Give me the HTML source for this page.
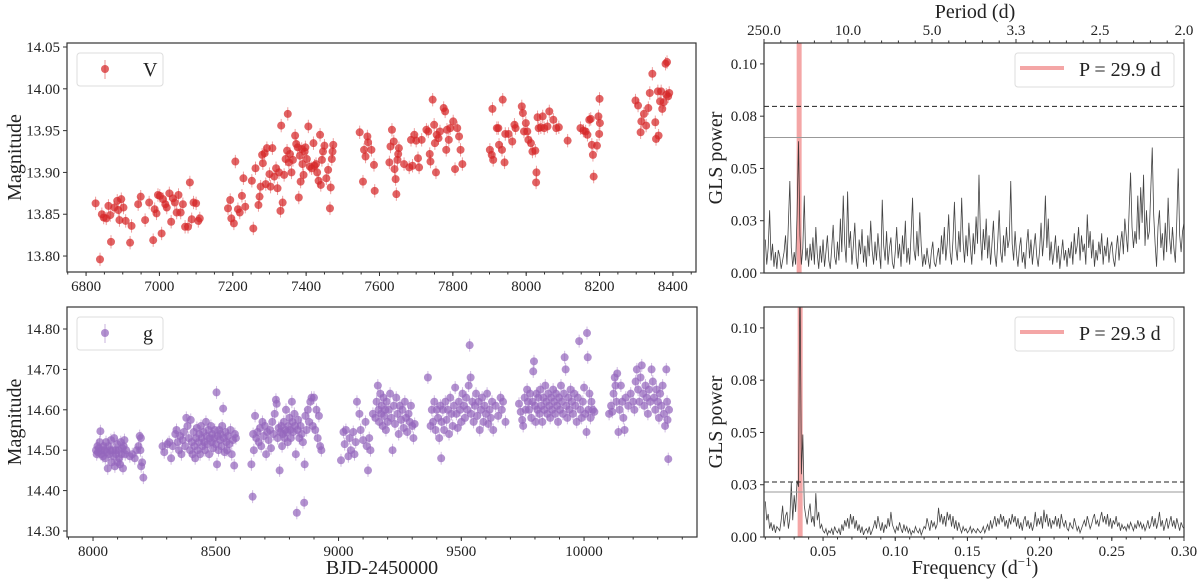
<!DOCTYPE html>
<html><head><meta charset="utf-8">
<style>
html,body{margin:0;padding:0;background:#fff;}
svg{display:block;font-family:"Liberation Serif","DejaVu Serif",serif;}
</style></head>
<body>
<svg id="fig" width="1200" height="583" viewBox="0 0 1200 583" xmlns="http://www.w3.org/2000/svg"></svg>
<script>
// ---------- V-band light curve ----------
const vT=[6826,6838,6843,6848,6855,6861,6866,6868,6877,6885,6888,6891,6896,6902,6908,6920,6924,6942,6949,6961,6972,6983,6987,6992,6996,7001,7006,7010,7016,7020,7027,7032,7037,7042,7047,7052,7058,7064,7070,7078,7083,7088,7093,7100,7106,7110,
7187,7193,7196,7203,7207,7214,7219,7225,7229,7234,7252,7256,7262,7270,7273,7276,7280,7282,7287,7290,7293,7300,7303,7308,7313,7318,7322,7326,7330,7332,7336,7340,7344,7348,7350,7353,7356,7360,7364,7370,7373,7377,7380,7383,7385,7388,7390,7393,7396,7398,7402,7406,7410,7415,7420,7423,7427,7430,7434,7438,7440,7443,7446,7450,7455,7460,7465,7467,7470,7472,7474,
7546,7555,7558,7562,7567,7569,7578,7585,7587,7627,7630,7634,7639,7641,7644,7646,7649,7651,7653,7667,7681,7686,7690,7695,7700,7705,7708,7715,7728,7733,7737,7739,7745,7749,7751,7754,7756,7761,7765,7775,7779,7782,7784,7789,7793,7801,7806,7812,7817,7821,7826,
7901,7906,7908,7910,7920,7924,7926,7934,7936,7941,7943,7952,7962,7968,7971,7988,7991,7994,7999,8003,8006,8013,8017,8025,8027,8028,8031,8034,8040,8045,8049,8058,8063,8074,8082,8089,8113,8148,8156,8162,8167,8172,8176,8179,8182,8184,8193,8197,8199,8200,8201,
8298,8305,8312,8314,8321,8327,8333,8337,8344,8352,8354,8359,8361,8365,8368,8371,8375,8380,8382,8384,8387,8390];
const vM=[13.863,13.796,13.850,13.846,13.845,13.860,13.849,13.817,13.858,13.866,13.855,13.843,13.868,13.858,13.842,13.816,13.836,13.862,13.871,13.843,13.864,13.819,13.856,13.851,13.873,13.872,13.827,13.868,13.862,13.858,13.875,13.841,13.869,13.864,13.852,13.873,13.852,13.862,13.835,13.835,13.888,13.844,13.864,13.863,13.842,13.845,
13.857,13.867,13.845,13.839,13.913,13.856,13.852,13.872,13.893,13.859,13.890,13.833,13.905,13.861,13.871,13.883,13.921,13.911,13.923,13.886,13.929,13.898,13.883,13.929,13.895,13.905,13.881,13.900,13.854,13.956,13.864,13.897,13.916,13.926,13.970,13.912,13.922,13.900,13.915,13.944,13.934,13.930,13.870,13.920,13.889,13.928,13.910,13.897,13.925,13.930,13.916,13.955,13.907,13.905,13.935,13.908,13.910,13.900,13.890,13.945,13.885,13.915,13.925,13.932,13.893,13.903,13.857,13.882,13.916,13.925,13.933,
13.948,13.889,13.927,13.919,13.943,13.936,13.927,13.909,13.878,13.912,13.931,13.951,13.937,13.904,13.892,13.874,13.915,13.922,13.929,13.910,13.906,13.939,13.908,13.945,13.938,13.917,13.906,13.939,13.951,13.949,13.922,13.913,13.987,13.957,13.935,13.900,13.945,13.941,13.949,13.977,13.973,13.927,13.951,13.939,13.953,13.961,13.904,13.953,13.943,13.927,13.910,
13.927,13.921,13.976,13.915,13.953,13.953,13.933,13.927,13.987,13.912,13.946,13.946,13.937,13.957,13.953,13.979,13.971,13.949,13.959,13.949,13.939,13.935,13.925,13.926,13.888,13.900,13.966,13.953,13.954,13.967,13.953,13.955,13.973,13.963,13.953,13.954,13.938,13.953,13.950,13.949,13.945,13.963,13.964,13.933,13.921,13.895,13.932,13.967,13.946,13.988,13.959,
13.986,13.980,13.948,13.961,13.970,13.956,13.977,13.995,14.018,13.960,13.940,13.997,13.944,13.985,13.997,13.976,13.984,14.030,13.993,14.032,13.991,13.995];
// ---------- g-band light curve ----------
const gT=[8012,8015,8018,8020,8024,8027,8030,8033,8036,8040,8043,8047,8050,8053,8056,8060,8063,8066,8070,8073,8076,8080,8083,8086,8089,8092,8095,8098,8101,8104,8107,8110,8113,8116,8119,8122,8125,8128,8131,8135,8150,8160,8170,8178,8185,8190,8193,8196,8200,8205,8195,
8283,8290,8303,8310,8318,8325,8335,8340,8345,8350,8355,8360,8365,8370,8375,8380,8385,8390,8395,8398,8402,8405,8410,8413,8416,8420,8423,8426,8430,8433,8436,8440,8443,8446,8450,8453,8456,8460,8463,8466,8470,8473,8476,8480,8483,8486,8490,8493,8496,8500,8503,8505,8508,8511,8514,8517,8520,8523,8526,8530,8533,8536,8540,8543,8546,8550,8555,8560,8565,8570,8575,8578,8582,
8645,8650,8652,8655,8660,8665,8670,8675,8680,8685,8690,8695,8700,8705,8710,8715,8720,8725,8730,8735,8740,8745,8748,8752,8756,8760,8763,8767,8770,8773,8777,8780,8783,8786,8790,8793,8796,8800,8803,8806,8810,8813,8816,8820,8823,8826,8830,8833,8836,8840,8845,8850,8855,8860,8862,8865,8870,8875,8880,8885,8890,8895,8900,8905,8910,8915,8920,8925,8930,
9010,9020,9025,9030,9040,9045,9050,9060,9065,9070,9075,9085,9090,9100,9110,9115,9120,9125,9130,9140,9150,9155,9160,9163,9166,9170,9173,9176,9180,9183,9186,9190,9193,9196,9200,9205,9210,9215,9220,9225,9230,9235,9240,9245,9250,9255,9260,9265,9270,9275,9280,9285,9290,9295,9300,9305,9310,
9364,9375,9380,9385,9390,9395,9400,9405,9410,9415,9418,9420,9425,9430,9435,9440,9445,9450,9455,9460,9465,9470,9475,9480,9485,9490,9495,9500,9505,9510,9515,9520,9525,9530,9534,9538,9540,9545,9550,9555,9560,9565,9570,9575,9580,9585,9590,9595,9600,9605,9610,9615,9620,9625,9630,9640,9650,9660,9665,9670,9680,
9735,9742,9748,9752,9758,9762,9768,9772,9776,9780,9785,9790,9793,9796,9800,9803,9806,9810,9814,9818,9822,9826,9830,9834,9838,9842,9846,9850,9854,9858,9862,9866,9870,9874,9878,9882,9886,9890,9894,9898,9902,9906,9910,9914,9918,9921,9925,9928,9932,9936,9940,9945,9950,9955,9960,9965,9970,9975,9980,9985,9990,9995,10000,10005,10010,10012,10015,10018,10022,10026,10030,10036,10042,
10102,10110,10115,10120,10125,10128,10132,10135,10140,10145,10150,10155,10160,10165,10170,10180,10190,10200,10205,10210,10215,10220,10225,10230,10235,10240,10245,10250,10255,10260,10265,10270,10275,10280,10285,10290,10295,10300,10305,10310,10315,10320,10325,10330,10335,10338,10340,10343,10346];
const gM=[14.50,14.49,14.51,14.495,14.505,14.52,14.547,14.49,14.50,14.485,14.51,14.50,14.48,14.52,14.495,14.455,14.51,14.49,14.50,14.525,14.47,14.50,14.485,14.53,14.46,14.50,14.49,14.515,14.47,14.50,14.48,14.465,14.52,14.49,14.505,14.455,14.51,14.525,14.49,14.50,14.485,14.49,14.48,14.50,14.51,14.535,14.50,14.46,14.47,14.432,14.53,
14.51,14.495,14.515,14.52,14.48,14.51,14.54,14.55,14.52,14.50,14.535,14.49,14.525,14.545,14.51,14.58,14.56,14.53,14.50,14.575,14.52,14.49,14.545,14.51,14.48,14.53,14.555,14.50,14.52,14.54,14.49,14.56,14.53,14.51,14.545,14.52,14.50,14.57,14.535,14.515,14.55,14.49,14.53,14.56,14.52,14.54,14.505,14.53,14.55,14.515,14.643,14.465,14.535,14.50,14.55,14.525,14.54,14.51,14.56,14.603,14.53,14.495,14.545,14.52,14.50,14.535,14.515,14.55,14.49,14.525,14.462,14.54,14.53,
14.465,14.385,14.54,14.50,14.585,14.53,14.545,14.52,14.555,14.51,14.57,14.535,14.56,14.49,14.545,14.525,14.55,14.505,14.57,14.54,14.59,14.625,14.615,14.53,14.555,14.45,14.545,14.56,14.51,14.54,14.57,14.53,14.55,14.60,14.545,14.52,14.56,14.58,14.55,14.53,14.62,14.57,14.545,14.59,14.56,14.49,14.345,14.55,14.575,14.53,14.56,14.54,14.52,14.37,14.465,14.585,14.55,14.60,14.57,14.62,14.63,14.56,14.63,14.55,14.60,14.53,14.585,14.51,14.50,
14.475,14.545,14.515,14.55,14.485,14.53,14.50,14.545,14.49,14.52,14.62,14.59,14.55,14.525,14.57,14.51,14.45,14.53,14.50,14.59,14.58,14.62,14.66,14.60,14.57,14.64,14.59,14.61,14.56,14.63,14.585,14.60,14.55,14.62,14.57,14.60,14.64,14.58,14.50,14.61,14.565,14.63,14.59,14.54,14.61,14.575,14.60,14.555,14.62,14.58,14.545,14.59,14.57,14.61,14.56,14.53,14.565,
14.68,14.56,14.60,14.57,14.62,14.55,14.60,14.58,14.53,14.61,14.48,14.57,14.60,14.55,14.62,14.575,14.60,14.54,14.63,14.59,14.56,14.61,14.655,14.59,14.555,14.62,14.60,14.57,14.64,14.61,14.58,14.63,14.60,14.66,14.76,14.68,14.59,14.62,14.57,14.61,14.64,14.585,14.62,14.55,14.60,14.63,14.57,14.61,14.59,14.64,14.565,14.60,14.58,14.62,14.55,14.61,14.585,14.63,14.60,14.62,14.57,
14.615,14.595,14.575,14.56,14.63,14.60,14.65,14.62,14.60,14.64,14.58,14.62,14.695,14.72,14.61,14.57,14.64,14.60,14.63,14.59,14.65,14.61,14.57,14.63,14.60,14.66,14.62,14.59,14.64,14.61,14.58,14.63,14.60,14.65,14.62,14.59,14.64,14.61,14.57,14.63,14.60,14.66,14.62,14.59,14.64,14.73,14.70,14.61,14.58,14.63,14.60,14.65,14.62,14.59,14.64,14.61,14.57,14.63,14.77,14.60,14.58,14.62,14.655,14.59,14.545,14.79,14.73,14.60,14.64,14.58,14.62,14.60,14.595,
14.59,14.61,14.595,14.64,14.68,14.66,14.62,14.69,14.545,14.60,14.66,14.62,14.58,14.55,14.63,14.61,14.64,14.62,14.60,14.67,14.70,14.65,14.62,14.68,14.71,14.64,14.61,14.66,14.63,14.59,14.65,14.62,14.70,14.67,14.63,14.60,14.65,14.62,14.58,14.64,14.61,14.66,14.59,14.56,14.70,14.62,14.575,14.478,14.60];
// ---------- GLS periodograms (freq grid 0.010..0.300 step 0.001) ----------
const pgFreqStart=0.010, pgFreqStep=0.001;
const pgV=[0.016,0.004,0.012,0.030,0.006,0.014,0.003,0.010,0.002,0.011,
0.008,0.002,0.006,0.010,0.018,0.004,0.024,0.044,0.012,0.003,
0.010,0.004,0.028,0.063,0.018,0.004,0.012,0.037,0.006,0.012,
0.003,0.014,0.006,0.017,0.004,0.022,0.009,0.002,0.013,0.005,
0.016,0.003,0.010,0.018,0.006,0.002,0.012,0.023,0.008,0.004,
0.015,0.006,0.026,0.010,0.037,0.014,0.005,0.039,0.012,0.020,
0.004,0.013,0.024,0.007,0.002,0.016,0.009,0.021,0.005,0.013,
0.003,0.018,0.008,0.025,0.011,0.004,0.015,0.006,0.019,0.010,
0.002,0.035,0.013,0.006,0.020,0.004,0.012,0.017,0.005,0.002,
0.010,0.022,0.007,0.014,0.003,0.018,0.009,0.025,0.005,0.012,
0.004,0.019,0.036,0.011,0.006,0.020,0.008,0.029,0.013,0.003,
0.009,0.004,0.012,0.006,0.002,0.010,0.015,0.005,0.003,0.008,
0.012,0.004,0.018,0.009,0.022,0.006,0.014,0.028,0.010,0.004,
0.016,0.034,0.012,0.006,0.020,0.010,0.036,0.015,0.005,0.018,
0.008,0.024,0.013,0.004,0.019,0.009,0.027,0.014,0.047,0.018,
0.006,0.021,0.011,0.026,0.007,0.018,0.004,0.014,0.025,0.009,
0.003,0.015,0.030,0.010,0.005,0.018,0.008,0.022,0.012,0.016,
0.044,0.014,0.006,0.020,0.009,0.003,0.012,0.017,0.005,0.010,
0.002,0.014,0.021,0.007,0.016,0.004,0.012,0.019,0.008,0.003,
0.011,0.024,0.008,0.017,0.037,0.012,0.026,0.006,0.015,0.004,
0.010,0.018,0.005,0.013,0.002,0.009,0.016,0.006,0.011,0.003,
0.012,0.007,0.015,0.004,0.019,0.009,0.013,0.022,0.006,0.018,
0.010,0.014,0.004,0.028,0.012,0.020,0.007,0.016,0.003,0.011,
0.006,0.015,0.009,0.019,0.004,0.013,0.008,0.017,0.005,0.012,
0.015,0.007,0.003,0.011,0.018,0.006,0.014,0.020,0.009,0.026,
0.018,0.010,0.030,0.048,0.022,0.012,0.020,0.014,0.037,0.016,
0.041,0.024,0.047,0.013,0.030,0.016,0.020,0.040,0.060,0.028,
0.014,0.003,0.022,0.030,0.012,0.019,0.006,0.024,0.010,0.036,
0.017,0.009,0.022,0.012,0.005,0.025,0.050,0.018,0.010,0.020,0.024];
const pgG=[0.017,0.008,0.011,0.004,0.007,0.003,0.006,0.002,0.005,0.004,
0.003,0.008,0.015,0.005,0.010,0.012,0.004,0.009,0.026,0.008,
0.020,0.012,0.027,0.024,0.130,0.030,0.049,0.015,0.010,0.006,
0.012,0.016,0.007,0.010,0.005,0.021,0.008,0.012,0.004,0.006,
0.003,0.002,0.004,0.001,0.003,0.002,0.004,0.001,0.005,0.003,
0.002,0.004,0.001,0.006,0.003,0.008,0.005,0.009,0.004,0.011,
0.006,0.010,0.004,0.008,0.003,0.006,0.002,0.005,0.001,0.003,
0.004,0.002,0.005,0.001,0.003,0.005,0.008,0.004,0.010,0.006,
0.003,0.007,0.002,0.006,0.004,0.009,0.005,0.012,0.006,0.004,
0.002,0.005,0.003,0.007,0.004,0.002,0.006,0.003,0.005,0.002,
0.004,0.001,0.003,0.002,0.005,0.003,0.002,0.004,0.001,0.003,
0.005,0.004,0.009,0.006,0.003,0.008,0.005,0.007,0.004,0.006,
0.014,0.007,0.011,0.006,0.010,0.005,0.012,0.008,0.011,0.005,
0.010,0.004,0.008,0.003,0.007,0.004,0.002,0.005,0.003,0.004,
0.002,0.003,0.005,0.002,0.004,0.003,0.002,0.004,0.003,0.002,
0.003,0.005,0.002,0.004,0.006,0.003,0.008,0.004,0.007,0.010,
0.005,0.009,0.006,0.011,0.007,0.010,0.005,0.008,0.004,0.009,
0.006,0.011,0.007,0.010,0.005,0.009,0.004,0.007,0.003,0.008,
0.010,0.005,0.008,0.004,0.007,0.003,0.006,0.012,0.005,0.009,
0.006,0.010,0.004,0.013,0.007,0.011,0.005,0.009,0.004,0.008,
0.006,0.010,0.005,0.009,0.004,0.011,0.007,0.005,0.008,0.004,
0.003,0.007,0.005,0.004,0.009,0.006,0.003,0.005,0.002,0.004,
0.006,0.008,0.005,0.010,0.007,0.004,0.006,0.009,0.011,0.006,
0.008,0.005,0.009,0.012,0.007,0.010,0.006,0.011,0.005,0.009,
0.004,0.008,0.006,0.010,0.005,0.007,0.003,0.006,0.004,0.005,
0.003,0.006,0.004,0.007,0.005,0.003,0.006,0.004,0.008,0.005,
0.007,0.004,0.006,0.003,0.005,0.008,0.004,0.006,0.010,0.005,
0.009,0.004,0.007,0.012,0.005,0.008,0.003,0.006,0.009,0.004,
0.007,0.010,0.005,0.008,0.004,0.009,0.006,0.003,0.007,0.005,0.004];
const bestPeriods=[29.9,29.3];
const fapLevels=[[0.0797,0.0648],[0.0263,0.0215]];
const magTicksV=[13.80,13.85,13.90,13.95,14.00,14.05];
const timeTicksV=[6800,7000,7200,7400,7600,7800,8000,8200,8400];
const magTicksG=[14.30,14.40,14.50,14.60,14.70,14.80];
const timeTicksG=[8000,8500,9000,9500,10000];
const powTicks=[0,0.025,0.05,0.075,0.10];
const powTickLabels=["0.00","0.03","0.05","0.08","0.10"];
const freqTicks=[0.05,0.10,0.15,0.20,0.25,0.30];
const periodTickLabels=["250.0","10.0","5.0","3.3","2.5","2.0"];

const NS="http://www.w3.org/2000/svg";
const svg=document.getElementById('fig');
function mk(tag,attrs,parent){const e=document.createElementNS(NS,tag);for(const k in attrs)e.setAttribute(k,attrs[k]);(parent||svg).appendChild(e);return e;}
function txt(s,x,y,size,anchor,parent,extra){const e=mk('text',Object.assign({x:x,y:y,'font-size':size,'text-anchor':anchor||'middle',fill:'#222'},extra||{}),parent);e.textContent=s;return e;}
function lin(d0,d1,p0,p1){return v=>p0+(v-d0)*(p1-p0)/(d1-d0);}

function panel(name,box,xd,yd){
  const g=mk('g',{});
  
  
  const X=lin(xd[0],xd[1],box.x0,box.x1), Y=lin(yd[0],yd[1],box.y1,box.y0);
  const clipId=name+'-clip';
  const cp=mk('clipPath',{id:clipId},g);mk('rect',{x:box.x0,y:box.y0,width:box.x1-box.x0,height:box.y1-box.y0},cp);
  const plot=mk('g',{'clip-path':'url(#'+clipId+')'},g);
  return {g,X,Y,plot,box};
}
function frame(p){
  const b=p.box;
  const r=mk('rect',{x:b.x0,y:b.y0,width:b.x1-b.x0,height:b.y1-b.y0,fill:'none',stroke:'#333','stroke-width':1.2},p.g);
  
  
}
function yTicks(p,vals,labels,minorStep,name){
  const b=p.box;const ax=mk('g',{},p.g);
  
  
  vals.forEach((v,i)=>{const y=p.Y(v);mk('line',{x1:b.x0-4,x2:b.x0,y1:y,y2:y,stroke:'#333'},ax);
    txt(labels[i],b.x0-7,y+5,15,'end',ax);});
}
function xTicks(p,vals,labels,minor,name,top){
  const b=p.box;const ax=mk('g',{},p.g);
  
  
  vals.forEach((v,i)=>{const x=p.X(v);mk('line',{x1:x,x2:x,y1:b.y1,y2:b.y1+4,stroke:'#333'},ax);
    txt(labels[i],x,b.y1+19,15,'middle',ax);});
  minor.forEach(v=>{const x=p.X(v);if(x>b.x0&&x<b.x1)mk('line',{x1:x,x2:x,y1:b.y1,y2:b.y1+2.5,stroke:'#333'},ax);});
}
function legendBox(p,x,y,w,h,name){
  const lg=mk('g',{},p.g);
  
  
  mk('rect',{x:x,y:y,width:w,height:h,rx:3,fill:'#fff','fill-opacity':0.8,stroke:'#ddd'},lg);
  return lg;
}
function lightCurve(name,box,xd,yd,T,M,err,color,ticksY,ticksX,minorX,label){
  const p=panel(name,box,xd,yd);
  const pts=mk('g',{},p.plot);
  
  
  for(let i=0;i<T.length;i++){
    const x=p.X(T[i]),y=p.Y(M[i]);
    mk('line',{x1:x,x2:x,y1:p.Y(M[i]-err),y2:p.Y(M[i]+err),stroke:color,'stroke-opacity':0.45,'stroke-width':1},pts);
    const c=mk('circle',{cx:x,cy:y,r:4,fill:color,'fill-opacity':0.72},pts);
    
    
  }
  frame(p);
  yTicks(p,ticksY,ticksY.map(v=>v.toFixed(2)),null,'y-axis-ticks');
  xTicks(p,ticksX,ticksX.map(String),minorX,'x-axis-ticks');
  const lg=legendBox(p,box.x0+10,box.y0+10,86,33,'legend');
  mk('line',{x1:box.x0+38,x2:box.x0+38,y1:box.y0+17,y2:box.y0+36,stroke:color,'stroke-opacity':0.5},lg);
  mk('circle',{cx:box.x0+38,cy:box.y0+26,r:4,fill:color,'fill-opacity':0.72},lg);
  const t=txt(label,box.x0+76,box.y0+33,20,'start',lg);
  const yt=txt('Magnitude',0,0,20,'middle',p.g,{transform:'translate(21,'+((box.y0+box.y1)/2)+') rotate(-90)'});
  
  
  return p;
}
function periodogram(name,box,pg,best,fap,legendText,top){
  const p=panel(name,box,[0.0091,0.30],[0,0.110]);
  const f=1/best;
  const band=mk('line',{x1:p.X(f),x2:p.X(f),y1:box.y0,y2:box.y1,stroke:'#f08080','stroke-opacity':0.7,'stroke-width':5},p.plot);
  
  
  let d='';
  for(let i=0;i<pg.length;i++){d+=(i?'L':'M')+p.X(pgFreqStart+i*pgFreqStep).toFixed(2)+','+p.Y(pg[i]).toFixed(2);}
  const path=mk('path',{d:d,fill:'none',stroke:'#222','stroke-opacity':0.85,'stroke-width':0.8},p.plot);
  
  
  const l1=mk('line',{x1:box.x0,x2:box.x1,y1:p.Y(fap[0]),y2:p.Y(fap[0]),stroke:'#222','stroke-dasharray':'5,3','stroke-width':1},p.plot);
  
  
  const l2=mk('line',{x1:box.x0,x2:box.x1,y1:p.Y(fap[1]),y2:p.Y(fap[1]),stroke:'#999','stroke-width':1},p.plot);
  
  
  frame(p);
  yTicks(p,powTicks,powTickLabels,null,'y-axis-ticks');
  const lg=legendBox(p,box.x1-169,box.y0+10,159,34,'legend');
  mk('line',{x1:box.x1-164,x2:box.x1-120,y1:box.y0+25,y2:box.y0+25,stroke:'#f08080','stroke-opacity':0.7,'stroke-width':4},lg);
  txt(legendText,box.x1-105,box.y0+33,20,'start',lg);
  const yt=txt('GLS power',0,0,20,'middle',p.g,{transform:'translate(722,'+((box.y0+box.y1)/2)+') rotate(-90)'});
  
  
  return p;
}
const minorV=[];for(let t=6750;t<=8450;t+=50)minorV.push(t);
const minorG=[];for(let t=7900;t<=10450;t+=100)minorG.push(t);
lightCurve('v-band-panel',{x0:67,x1:696,y0:43,y1:272},[6748,8463],[13.7809,14.0548],vT,vM,0.008,'#d62728',magTicksV,timeTicksV,minorV,'V');
lightCurve('g-band-panel',{x0:67,x1:697,y0:307,y1:537},[7894,10460],[14.2851,14.8545],gT,gM,0.016,'#9467bd',magTicksG,timeTicksG,minorG,'g');
const pTop=periodogram('v-periodogram-panel',{x0:764,x1:1184,y0:43,y1:273},pgV,bestPeriods[0],fapLevels[0],'P = 29.9 d');
const pBot=periodogram('g-periodogram-panel',{x0:764,x1:1184,y0:307,y1:537},pgG,bestPeriods[1],fapLevels[1],'P = 29.3 d');
// bottom frequency axis
const minorF=[];for(let k=1;k<=30;k++)minorF.push(k*0.01);
xTicks(pBot,freqTicks,freqTicks.map(v=>v.toFixed(2)),minorF,'frequency-axis-ticks');
// top period axis (evenly spaced)
const pa=mk('g',{});


periodTickLabels.forEach((s,i)=>{const x=764+i*84;mk('line',{x1:x,x2:x,y1:43,y2:39,stroke:'#333'},pa);txt(s,x,35,15,'middle',pa);});
for(let k=0;k<25;k++){const x=764+k*16.8;mk('line',{x1:x,x2:x,y1:43,y2:40.5,stroke:'#333'},pa);}
let t1=txt('Period (d)',975,18,20,'middle');


let t2=txt('BJD-2450000',382,574,20,'middle');


let t3=mk('text',{x:975,y:574,'font-size':20,'text-anchor':'middle',fill:'#222'});
t3.innerHTML='Frequency (d<tspan dy="-8" font-size="13">−1</tspan><tspan dy="8">)</tspan>';


</script>
</body></html>
